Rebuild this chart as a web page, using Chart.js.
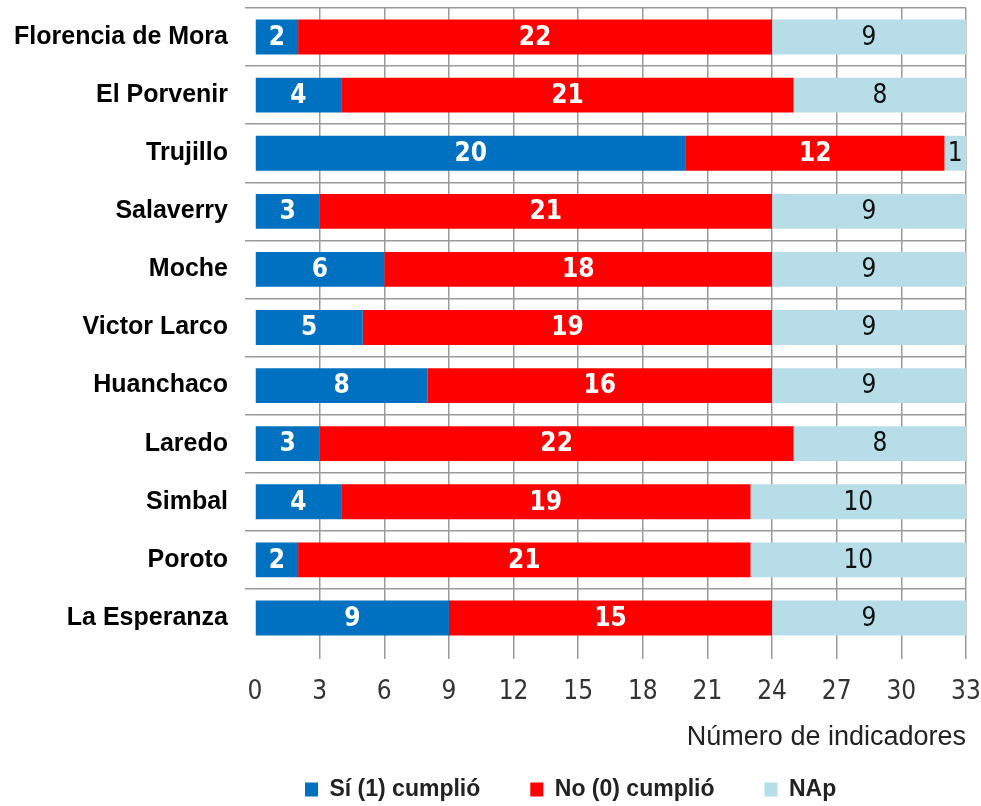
<!DOCTYPE html>
<html>
<head>
<meta charset="utf-8">
<script src="https://cdn.jsdelivr.net/npm/chart.js@4"></script>
<style>
  body { margin: 0; background: #fff; }
  #wrap { width: 981px; height: 806px; position: relative; }
</style>
</head>
<body>
<div id="wrap"><canvas id="chart-indicadores"></canvas></div>
<script>
const distritos = ["Florencia de Mora", "El Porvenir", "Trujillo", "Salaverry", "Moche",
  "Victor Larco", "Huanchaco", "Laredo", "Simbal", "Poroto", "La Esperanza"];
const cumplio = [2, 4, 20, 3, 6, 5, 8, 3, 4, 2, 9];
const noCumplio = [22, 21, 12, 21, 18, 19, 16, 22, 19, 21, 15];
const nap = [9, 8, 1, 9, 9, 9, 9, 8, 10, 10, 9];
const seriesNames = ["Sí (1) cumplió", "No (0) cumplió", "NAp"];
const xTicks = [0, 3, 6, 9, 12, 15, 18, 21, 24, 27, 30, 33];

const narrow = "'Liberation Sans Narrow', 'DejaVu Sans Condensed', sans-serif";
const sans = "'Liberation Sans', Arial, sans-serif";
const gridGray = "#9a9a9a";

// numbers drawn in the middle of each segment
const barLabels = {
  id: "barLabels",
  afterDatasetsDraw(chart) {
    const ctx = chart.ctx;
    chart.data.datasets.forEach((ds, i) => {
      const meta = chart.getDatasetMeta(i);
      ctx.save();
      ctx.font = (i < 2 ? "bold " : "") + "26px " + narrow;
      ctx.fillStyle = i < 2 ? "#fff" : "#111";
      ctx.textAlign = "center";
      ctx.textBaseline = "middle";
      meta.data.forEach((bar, j) => {
        ctx.fillText(String(ds.data[j]), (bar.x + bar.base) / 2, bar.y + 1);
      });
      ctx.restore();
    });
  }
};

const myChart = new Chart(document.querySelector("#chart-indicadores").getContext("2d"), {
  type: "bar",
  data: {
    labels: distritos,
    datasets: [
      { label: seriesNames[0], data: cumplio, backgroundColor: "#0070C0" },
      { label: seriesNames[1], data: noCumplio, backgroundColor: "#FF0000" },
      { label: seriesNames[2], data: nap, backgroundColor: "#B7DDE8" },
    ],
  },
  options: {
    indexAxis: "y",
    responsive: true,
    maintainAspectRatio: false,
    animation: false,
    datasets: { bar: { barPercentage: 0.6, categoryPercentage: 1, borderWidth: 0 } },
    layout: { padding: { left: 0, right: 15, top: 8, bottom: -5 } },
    scales: {
      x: {
        stacked: true,
        min: 0,
        max: 33,
        afterBuildTicks: (s) => { s.ticks = xTicks.map((v) => ({ value: v })); },
        afterFit: (s) => { s.height = 81; s.paddingLeft = 0; s.paddingRight = 0; },
        border: { display: false },
        grid: {
          color: (c) => (c.tick && c.tick.value === 0 ? "transparent" : gridGray),
          lineWidth: 1.5,
          tickLength: 12,
        },
        ticks: { padding: 18, color: "#333", font: { family: narrow, size: 26 } },
        title: {
          display: true,
          text: "Número de indicadores",
          align: "end",
          color: "#222",
          font: { family: sans, size: 27 },
          padding: { top: 0, bottom: -26 },
        },
      },
      y: {
        stacked: true,
        afterFit: (s) => { s.width = 255; s.paddingTop = 0; s.paddingBottom = 0; },
        border: { display: false },
        grid: {
          color: (c) => (c.type === "tick" ? gridGray : "transparent"),
          lineWidth: 1.5,
          tickLength: 10,
        },
        ticks: { padding: 17, color: "#000", font: { family: sans, size: 25, weight: "bold" } },
      },
    },
    plugins: {
      legend: {
        position: "bottom",
        fullSize: false,
        align: "start",
        labels: {
          boxWidth: 13,
          boxHeight: 14,
          padding: 50,
          color: "#222",
          font: { family: sans, size: 23, weight: "bold" },
        },
      },
      tooltip: { enabled: false },
    },
  },
  plugins: [barLabels],
});
</script>
</body>
</html>
